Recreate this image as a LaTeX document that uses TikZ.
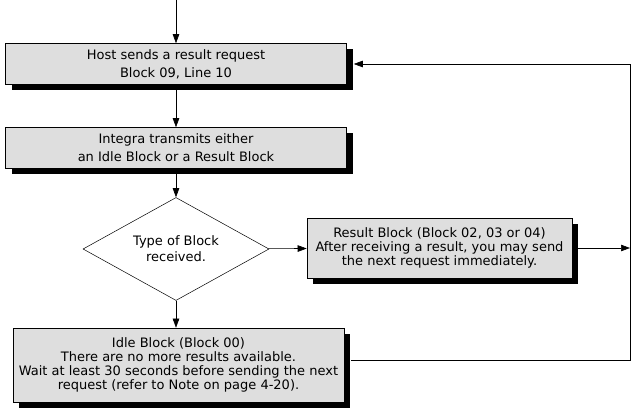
\documentclass[tikz,border=0pt]{standalone}
\usepackage{fontspec}
\setmainfont{DejaVu Sans}
\usetikzlibrary{positioning, shapes.geometric, shadows, arrows.meta}
\definecolor{BoxGray}{RGB}{222,222,222}

\begin{document}
\begin{tikzpicture}[x=1pt,y=-1pt,
    stepbox/.style={draw,line width=0.6pt,fill=BoxGray,align=center,inner sep=0pt,
      drop shadow={shadow xshift=6pt,shadow yshift=-6pt,fill=black,opacity=1}},
    arr/.style={-{Triangle[length=9pt,width=6.5pt]},line width=0.6pt},
    txt/.style={font=\fontsize{13}{14.2}\selectfont}]
          \useasboundingbox (0,0) rectangle (633,409);
          \coordinate (start) at (176,0);
          \node[stepbox,txt,font=\fontsize{13}{18}\selectfont,minimum width=341pt,minimum height=41pt] (host) at (176,64) {Host sends a result request\\Block 09, Line 10};
          \node[stepbox,txt,font=\fontsize{13}{18}\selectfont,minimum width=341pt,minimum height=41pt] (integra) at (176,148) {Integra transmits either\\an Idle Block or a Result Block};
          \node[diamond,draw,line width=0.5pt,font=\fontsize{13}{16}\selectfont,align=center,inner sep=0pt,aspect=1.8,minimum width=186pt,minimum height=103pt] (type) at (176,249) {Type of Block\\received.};
          \node[stepbox,txt,minimum width=265pt,minimum height=60pt] (result) at (439.5,248) {Result Block (Block 02, 03 or 04)\\After receiving a result, you may send\\the next request immediately.};
          \node[stepbox,txt,minimum width=331pt,minimum height=74pt] (idle) at (178.5,365) {Idle Block (Block 00)\\There are no more results available.\\Wait at least 30 seconds before sending the next\\request (refer to Note on page 4-20).};
          \coordinate (rt) at (630,64);
          \coordinate (rb) at (630,360);
          % main flow
          \draw[arr] (start) -- (host);
          \draw[arr] (host) -- (integra);
          \draw[arr] (integra) -- (type);
          \draw[arr] (type) -- (result);
          \draw[arr] (type) -- (type |- idle.north);
          % loop back
          \draw[arr] (result) -- (result -| rt);
          \draw[line width=0.6pt] ([xshift=7pt,yshift=5pt]idle.east) -- (rb) -- (rt);
          \draw[arr] (rt) -- ([xshift=7pt]host.east);
\end{tikzpicture}
\end{document}
